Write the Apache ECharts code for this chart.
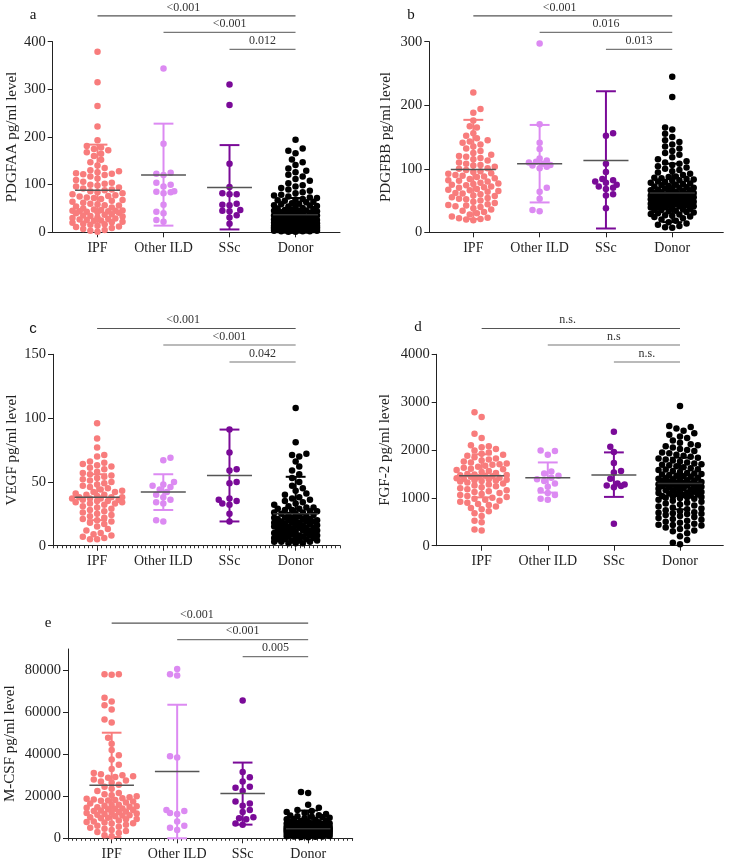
<!DOCTYPE html>
<html><head><meta charset="utf-8">
<script src="https://cdn.jsdelivr.net/npm/echarts@6/dist/echarts.min.js"></script>
<style>html,body{margin:0;padding:0;background:#fff}#c{width:729px;height:864px}</style>
</head><body><div id="c"></div>
<script>
// ---------- DATA ----------
const groups = ['IPF', 'Other ILD', 'SSc', 'Donor'];

// a: PDGFAA
const pdgfaaIPF = [379,315,265,222,193,181,178,175,172,168,165,160,152,147,140,135,130,128,126,124,123,122,120,117,113,110,106,104,102,100,98,96,94,92,90,88,86,84,82,80,78,76,75,73,72,70,68,66,64,62,60,59,57,56,54,52,50,48,47,46,45,45,44,44,43,42,41,40,38,37,35,34,33,31,30,29,28,27,26,25,24,22,21,20,18,17,16,14,12,11,9,7,5,3,1];
const pdgfaaOtherILD = [344,186,125,123,120,104,100,96,86,85,84,82,58,43,40,26,22];
const pdgfaaSSc = [310,267,144,95,82,80,80,60,58,57,47,45,44,36,31,18];
const pdgfaaDonor = [194,176,171,166,153,147,141,134,129,126,121,117,112,108,103,99,96,93,90,87,84,82,79,77,75,73,72,70,69,67,66,64,63,61,60,59,57,56,55,54,52,51,50,49,48,47,46,45,45,44,43,42,41,41,40,39,38,38,37,36,35,35,34,33,33,32,31,31,30,29,29,28,27,27,26,26,25,24,24,23,23,22,22,21,21,20,20,19,19,18,18,18,17,17,16,16,16,15,15,14,14,14,13,13,13,12,12,12,12,11,11,11,11,10,10,10,10,9,9,9,9,9,8,8,8,8,8,7,7,7,7,6,6,6,6,5,5,5,5,4,4,4,3,3,3,2,2,2,1,1];
const pdgfaaMean = [88, 120, 94, 37];
const pdgfaaSDLow = [-8, 14, 6, 2];
const pdgfaaSDHigh = [184, 228, 183, 72];
const pdgfaaP = ['<0.001', '<0.001', '0.012'];

// b: PDGFBB
const pdgfbbIPF = [220,194,188,176,167,165,156,152,148,145,143,141,138,135,132,128,125,122,120,119,117,115,113,110,108,106,105,103,101,100,98,96,95,93,92,90,89,88,87,85,84,82,81,80,78,77,76,75,74,72,71,70,68,67,66,65,64,62,61,60,58,57,55,54,53,52,50,48,46,44,43,42,41,40,38,36,34,32,30,28,25,23,22,21,20,19];
const pdgfbbOtherILD = [297,170,141,131,116,113,111,110,108,106,105,103,101,70,64,53,35,33];
const pdgfbbSSc = [156,152,108,95,84,82,80,78,75,72,70,68,60,58,38];
const pdgfbbDonor = [245,213,165,162,155,150,145,142,138,135,132,128,125,122,118,115,112,110,108,106,104,102,100,98,96,94,92,90,88,87,86,85,84,83,82,81,80,79,78,77,76,75,74,73,72,71,70,70,69,68,67,66,66,65,64,64,63,62,62,61,60,60,59,59,58,58,57,57,56,56,55,55,54,54,53,53,52,52,51,51,50,50,49,49,48,48,47,47,46,46,45,45,44,44,43,43,42,42,41,41,40,40,39,38,37,36,35,35,34,33,32,31,30,29,28,27,26,25,24,22,20,18,16,14,12,10,8,7];
const pdgfbbMean = [99, 108, 113, 62];
const pdgfbbSDLow = [21, 47, 6, 16];
const pdgfbbSDHigh = [177, 169, 222, 108];
const pdgfbbP = ['<0.001', '0.016', '0.013'];

// c: VEGF
const vegfIPF = [96,84,77,71,70,66,65,64,63,62,61,60,58,57,56,55,54,53,52,51,50,49,48,47,46,45,44,43,42,42,41,40,40,39,38,38,38,37,37,37,36,36,35,35,34,34,33,33,32,31,30,29,28,27,26,25,24,23,22,21,20,19,18,17,15,13,12,10,9,8,7,6,5,5];
const vegfOtherILD = [69,67,50,48,47,46,44,42,40,38,36,34,33,20,19];
const vegfSSc = [91,73,60,59,50,49,37,36,35,33,32,25,19];
const vegfDonor = [108,81,72,71,70,66,62,59,56,53,50,47,45,43,41,40,38,37,36,35,34,33,32,31,30,30,29,29,28,28,27,27,26,26,25,25,24,24,23,23,22,22,22,21,21,21,20,20,20,19,19,19,18,18,18,17,17,17,16,16,16,15,15,15,14,14,14,13,13,13,12,12,12,11,11,11,10,10,10,9,9,9,8,8,8,7,7,7,6,6,6,5,5,5,4,4,4,3,3,3,2,2,2];
const vegfMean = [38, 42, 55, 25];
const vegfSDLow = [20, 28, 19, -4];
const vegfSDHigh = [56, 56, 91, 54];
const vegfP = ['<0.001', '<0.001', '0.042'];

// d: FGF-2
const fgf2IPF = [2790,2690,2340,2250,2100,2080,2060,2020,1990,1950,1920,1900,1880,1850,1820,1800,1780,1760,1740,1720,1700,1690,1670,1650,1630,1610,1600,1580,1560,1540,1520,1500,1490,1480,1470,1460,1450,1440,1430,1420,1410,1400,1390,1380,1370,1360,1350,1340,1320,1300,1280,1260,1240,1220,1200,1180,1160,1140,1120,1100,1080,1060,1040,1020,1000,980,960,940,920,900,870,850,820,790,760,720,680,620,520,490,340,320];
const fgf2OtherILD = [1990,1980,1900,1550,1510,1460,1420,1390,1350,1300,1230,1160,1100,1060,980,960];
const fgf2SSc = [2380,2070,1960,1730,1560,1530,1400,1300,1280,1260,1250,1220,460];
const fgf2Donor = [2920,2500,2480,2450,2400,2350,2320,2280,2250,2200,2150,2120,2100,2080,2050,2020,2000,1980,1950,1930,1900,1880,1860,1840,1820,1800,1780,1760,1740,1720,1700,1690,1680,1660,1640,1620,1600,1590,1580,1560,1540,1520,1510,1500,1490,1480,1460,1450,1440,1420,1410,1400,1390,1380,1370,1360,1350,1340,1330,1320,1310,1300,1290,1285,1280,1275,1270,1260,1250,1240,1230,1220,1210,1200,1190,1180,1170,1160,1150,1140,1130,1120,1110,1100,1090,1080,1070,1060,1050,1040,1030,1020,1010,1000,990,980,960,940,920,900,880,860,840,820,800,780,760,740,720,700,690,680,670,660,640,620,600,580,560,540,520,500,480,460,440,430,420,400,380,350,320,300,260,200,120,60,30];
const fgf2Mean = [1460, 1420, 1480, 1300];
const fgf2SDLow = [1010, 1110, 1020, 760];
const fgf2SDHigh = [1910, 1740, 1950, 1840];
const fgf2P = ['n.s.', 'n.s', 'n.s.'];

// e: M-CSF
const mcsfIPF = [78000,78000,77800,66800,65000,63300,61200,56500,55000,47800,45000,42000,39500,37500,35000,33000,31000,30500,30000,29500,29200,28800,28000,27500,27000,26500,25500,24500,23500,22500,21500,21000,20500,20000,19500,19000,18800,18500,18200,18000,17800,17500,17000,16500,16000,15800,15500,15200,15000,14800,14500,14200,14000,13800,13500,13200,13000,12800,12500,12200,12000,11800,11500,11200,11000,10800,10500,10000,9800,9500,9200,9000,8500,8000,7800,7500,7200,7000,6500,6000,5500,5000,4500,4000,3500,3000,2500,1500,1000];
const mcsfOtherILD = [80500,78000,77400,39000,38400,13500,13000,12000,11500,8000,6000,5000,4000];
const mcsfSSc = [65500,31500,29000,27000,24500,24000,22500,17500,16500,15500,13500,12500,10000,9500,9000,7000,6500];
const mcsfDonor = [22000,21500,16000,14500,13500,13000,12500,12000,11500,11000,10800,10500,10200,10000,9800,9500,9200,9000,8800,8500,8200,8000,7800,7600,7400,7200,7000,6900,6800,6600,6400,6200,6000,5900,5800,5700,5600,5500,5400,5300,5200,5100,5000,4900,4800,4700,4600,4500,4400,4300,4200,4100,4000,3900,3800,3700,3600,3500,3400,3300,3200,3100,3000,2900,2800,2700,2600,2500,2400,2300,2200,2100,2000,1900,1800,1700,1600,1500,1400,1300,1200,1100,1000,900,800,700,600,500,4600,4400,4200,5000,3800,3600,5200,4800,4500,4100,3900,3500,3300,5500,6000,6500,7000,2800,3000,3200,4700,4300,2500,2000];
const mcsfMean = [25200, 31800, 21300, 4500];
const mcsfSDLow = [600, 0, 6500, -4200];
const mcsfSDHigh = [50200, 63500, 36000, 13200];
const mcsfP = ['<0.001', '<0.001', '0.005'];

// ---------- STYLE / LAYOUT ----------
const SERIF = '"Liberation Serif", "Times New Roman", serif';
const SANS = '"Liberation Sans", Arial, sans-serif';
const groupColors = ['#F87C7C', '#DC8AF2', '#7A0A98', '#000000'];
const meanColor = '#555555';

const panels = [
  {letter:'a', lx:33, ly:15, lfont:SERIF, title:'PDGFAA pg/ml level', grid:{left:52.7, top:41.7, width:287.3, height:190.6}, xMin:-0.679, xMax:3.674, yMax:400, yInt:100, nameGap:33, minor:false,
   data:[pdgfaaIPF, pdgfaaOtherILD, pdgfaaSSc, pdgfaaDonor], mean:pdgfaaMean, lo:pdgfaaSDLow, hi:pdgfaaSDHigh, p:pdgfaaP},
  {letter:'b', lx:411, ly:15, lfont:SERIF, title:'PDGFBB pg/ml level', grid:{left:429.3, top:41.7, width:294, height:190.6}, xMin:-0.664, xMax:3.77, yMax:300, yInt:100, nameGap:36, minor:false,
   data:[pdgfbbIPF, pdgfbbOtherILD, pdgfbbSSc, pdgfbbDonor], mean:pdgfbbMean, lo:pdgfbbSDLow, hi:pdgfbbSDHigh, p:pdgfbbP},
  {letter:'c', lx:33, ly:329, lfont:SANS, title:'VEGF pg/ml level', grid:{left:53, top:354.3, width:287, height:191.4}, xMin:-10/15, xMax:3.67, yMax:150, yInt:50, nameGap:33, minor:true,
   data:[vegfIPF, vegfOtherILD, vegfSSc, vegfDonor], mean:vegfMean, lo:vegfSDLow, hi:vegfSDHigh, p:vegfP},
  {letter:'d', lx:418, ly:327, lfont:SERIF, title:'FGF-2 pg/ml level', grid:{left:436.7, top:354.3, width:286.6, height:191.4}, xMin:-0.68, xMax:3.655, yMax:4000, yInt:1000, nameGap:44, minor:false,
   data:[fgf2IPF, fgf2OtherILD, fgf2SSc, fgf2Donor], mean:fgf2Mean, lo:fgf2SDLow, hi:fgf2SDHigh, p:fgf2P},
  {letter:'e', lx:48, ly:623, lfont:SERIF, title:'M-CSF pg/ml level', grid:{left:68, top:649, width:284.7, height:189.3}, xMin:-10/15, xMax:3.68, yMax:90000, yInt:20000, nameGap:50, minor:true,
   data:[mcsfIPF, mcsfOtherILD, mcsfSSc, mcsfDonor], mean:mcsfMean, lo:mcsfSDLow, hi:mcsfSDHigh, p:mcsfP}
];

const chart = echarts.init(document.getElementById('c'), null, {renderer:'canvas', width:729, height:864});

const opt = {animation:false, backgroundColor:'#ffffff', grid:[], xAxis:[], yAxis:[], series:[]};
panels.forEach((p, i) => {
  opt.grid.push(Object.assign({containLabel:false}, p.grid));
  opt.xAxis.push({
    type:'value', gridIndex:i, min:p.xMin, max:p.xMax, position:'bottom',
    axisLine:{show:true, onZero:false, lineStyle:{color:'#222', width:1}},
    axisTick:{show:true, customValues:[0,1,2,3], length:5, lineStyle:{color:'#222', width:1}},
    axisLabel:{show:true, customValues:[0,1,2,3], formatter:v => groups[Math.round(v)] || '', fontFamily:SERIF, fontSize:14, color:'#222', margin:9},
    splitLine:{show:false}
  });
  const yt = [];
  for (let v = 0; v <= p.yMax; v += p.yInt) yt.push(v);
  opt.yAxis.push({
    type:'value', gridIndex:i, min:0, max:p.yMax, position:'left',
    axisLine:{show:true, onZero:false, lineStyle:{color:'#222', width:1}},
    axisTick:{show:true, customValues:yt, length:5, lineStyle:{color:'#222', width:1}},
    axisLabel:{show:true, customValues:yt, formatter:v => String(v), fontFamily:SERIF, fontSize:14.5, color:'#222', margin:7},
    splitLine:{show:false},
    name:p.title, nameLocation:'middle', nameGap:p.nameGap, nameRotate:90,
    nameTextStyle:{fontFamily:SERIF, fontSize:15, color:'#222'}
  });
});
// minor tick axes for c and e
panels.forEach((p, i) => {
  if (!p.minor) return;
  opt.xAxis.push({
    type:'value', gridIndex:i, min:-10, max:p.xMax * 15, interval:1, position:'bottom',
    axisLine:{show:false, onZero:false}, axisLabel:{show:false}, splitLine:{show:false},
    axisTick:{show:true, length:2.5, lineStyle:{color:'#333', width:1}}
  });
});
chart.setOption(opt);

// ---------- SERIES (positions via library scales) ----------
function swarm(vals, toPy, dot, maxHalf, pxPerUnit) {
  const pts = vals.map((v, k) => ({k, y: toPy(v)})).sort((a, b) => b.y - a.y);
  const placed = [];
  const out = new Array(vals.length);
  const step = dot * 0.55;
  pts.forEach((pt, n) => {
    const sgn = n % 2 === 0 ? 1 : -1;
    let best = 0, bestScore = -Infinity, found = false;
    for (let s = 0; s * step <= maxHalf && !found; s++) {
      const cands = s === 0 ? [0] : [sgn * s * step, -sgn * s * step];
      for (const x of cands) {
        let minD = Infinity;
        for (const q of placed) {
          if (Math.abs(q.y - pt.y) < dot) {
            const d = Math.hypot(q.x - x, q.y - pt.y);
            if (d < minD) minD = d;
          }
        }
        if (minD >= dot * 0.92) { best = x; found = true; break; }
        if (minD > bestScore) { bestScore = minD; best = x; }
      }
    }
    placed.push({x: best, y: pt.y});
    out[pt.k] = best / pxPerUnit;
  });
  return out;
}

const series = [];
const graphic = [];
const DOT = 6.5;
const halfWidth = [26, 14, 12, 22];
panels.forEach((p, i) => {
  const f = {gridIndex: i};
  const toPy = v => chart.convertToPixel(f, [0, v])[1];
  const x0 = chart.convertToPixel(f, [0, 0]);
  const x1 = chart.convertToPixel(f, [1, 0]);
  const pxPerUnit = x1[0] - x0[0];
  p.data.forEach((vals, g) => {
    const offs = swarm(vals, toPy, DOT, halfWidth[g], pxPerUnit);
    series.push({
      type:'scatter', xAxisIndex:i, yAxisIndex:i, symbol:'circle', symbolSize:DOT, clip:false,
      itemStyle:{color:groupColors[g], opacity:1}, z:2,
      data: vals.map((v, k) => [g + offs[k], v])
    });
  });
  series.push({
    type:'custom', xAxisIndex:i, yAxisIndex:i, z:5, clip:false,
    data: p.mean.map((m, g) => [g, m, p.lo[g], p.hi[g]]),
    renderItem: (params, api) => {
      const g = api.value(0), m = api.value(1), lo = api.value(2), hi = api.value(3);
      const col = groupColors[g];
      const ch = [];
      const loC = Math.max(lo, 0);
      const a = api.coord([g, loC]), b = api.coord([g, hi]);
      ch.push({type:'line', shape:{x1:a[0], y1:a[1], x2:b[0], y2:b[1]}, style:{stroke:col, lineWidth:2}});
      const h1 = api.coord([g - 0.15, hi]), h2 = api.coord([g + 0.15, hi]);
      ch.push({type:'line', shape:{x1:h1[0], y1:h1[1], x2:h2[0], y2:h2[1]}, style:{stroke:col, lineWidth:2}});
      if (lo >= 0) {
        const l1 = api.coord([g - 0.15, lo]), l2 = api.coord([g + 0.15, lo]);
        ch.push({type:'line', shape:{x1:l1[0], y1:l1[1], x2:l2[0], y2:l2[1]}, style:{stroke:col, lineWidth:2}});
      }
      const m1 = api.coord([g - 0.34, m]), m2 = api.coord([g + 0.34, m]);
      ch.push({type:'line', shape:{x1:m1[0], y1:m1[1], x2:m2[0], y2:m2[1]}, style:{stroke:g === 3 ? '#333' : meanColor, lineWidth:1.5}});
      return {type:'group', children:ch};
    }
  });

  // significance brackets
  const top = p.grid.top;
  const levels = [-25.8, -9.3, 7.7];
  const labelX = [1.3, 2, 2.5];
  [0, 1, 2].forEach(j => {
    const xa = chart.convertToPixel(f, [j, 0])[0];
    const xb = chart.convertToPixel(f, [3, 0])[0];
    const y = top + levels[j];
    graphic.push({type:'line', shape:{x1:xa, y1:y, x2:xb, y2:y}, style:{stroke: j === 0 ? '#555' : '#777', lineWidth:1.2}, z:10});
    const xl = chart.convertToPixel(f, [labelX[j], 0])[0];
    graphic.push({type:'text', x:xl, y:y - 2.5, style:{text:p.p[j], font:'12px ' + SERIF, fill:'#333', textAlign:'center', textVerticalAlign:'bottom'}, z:10});
  });
  graphic.push({type:'text', x:p.lx, y:p.ly, style:{text:p.letter, font:'15px ' + p.lfont, fill:'#111', textAlign:'center', textVerticalAlign:'middle'}, z:10});
});

chart.setOption({series, graphic});
</script>
</body></html>
